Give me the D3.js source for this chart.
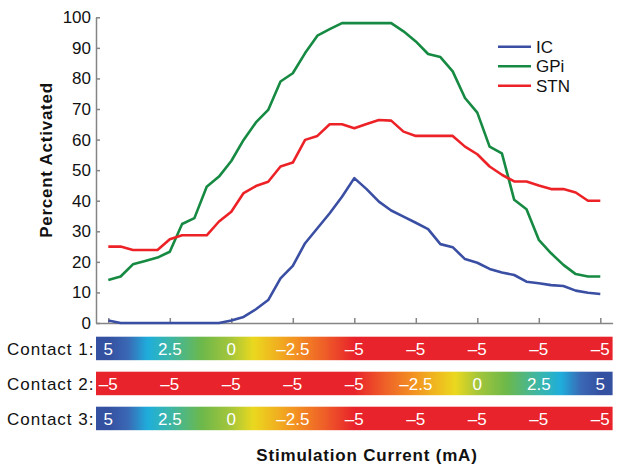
<!DOCTYPE html>
<html>
<head>
<meta charset="utf-8">
<script src="https://cdn.jsdelivr.net/npm/d3@7"></script>
<style>
  body { margin: 0; background: #fff; }
  svg { display: block; font-family: "Liberation Sans", Arial, Helvetica, sans-serif; }
</style>
</head>
<body>
<div id="chart"></div>
<script>
// percent activated at each stimulation step (41 steps)
var icValues = [0.8, 0, 0, 0, 0, 0, 0, 0, 0, 0, 0.8, 2, 4.5, 7.5, 14.6, 18.7, 26.1, 31, 35.9, 41.3, 47.4,
  43.8, 39.7, 36.8, 34.8, 32.8, 30.7, 25.8, 24.8, 20.9, 19.7, 17.7, 16.5, 15.7, 13.5, 13, 12.4, 12.1, 10.6, 9.9, 9.5];
var gpiValues = [14.1, 15.2, 19.2, 20.3, 21.4, 23.3, 32.4, 34.3, 44.6, 47.9, 53, 59.9, 65.6, 69.7, 79, 81.7, 88.3, 94, 96.1, 98.1, 98.1,
  98.1, 98.1, 98.1, 95.4, 92.1, 88, 87, 82.3, 73.6, 68.8, 57.7, 55.5, 40.3, 37.2, 27.2, 22.8, 19, 16, 15.2, 15.2];
var stnValues = [25, 25, 23.9, 23.9, 23.9, 27.4, 28.7, 28.7, 28.7, 33.2, 36.4, 42.5, 44.8, 46.2, 51.2, 52.5, 59.9, 61.2, 65, 65, 63.7,
  65.1, 66.4, 66.2, 62.6, 61.2, 61.2, 61.2, 61.2, 57.7, 55.2, 51.2, 48.5, 46.3, 46.3, 45, 43.8, 43.8, 42.7, 40, 40];

var seriesNames = ["IC", "GPi", "STN"];
var seriesColors = ["#3a4fa3", "#168a42", "#ec2227"];

var yTicks = [0, 10, 20, 30, 40, 50, 60, 70, 80, 90, 100];
var stepTicks = [0, 5, 10, 15, 20, 25, 30, 35, 40];

// current (mA) on each contact at the tick steps
var contactNames = ["Contact 1:", "Contact 2:", "Contact 3:"];
var contact1 = [5, 2.5, 0, -2.5, -5, -5, -5, -5, -5];
var contact2 = [-5, -5, -5, -5, -5, -2.5, 0, 2.5, 5];
var contact3 = [5, 2.5, 0, -2.5, -5, -5, -5, -5, -5];

// colour key for the current bars
var keyValues = [5, 4.2, 3.4, 2.5, 1.2, 0, -0.9, -2.5, -3.7, -5];
var keyColors = ["#3450a1", "#3a68b4", "#1eaedc", "#3cb6a8", "#6cb84a", "#a6c63a", "#ebd81e", "#f39621", "#ef6228", "#e8232b"];

function drawChart() {
  var w = 624, h = 472;
  var font = "\"Liberation Sans\", Arial, Helvetica, sans-serif";

  var svg = d3.select("#chart")
    .append("svg")
    .attr("width", w)
    .attr("height", h);

  var xScale = d3.scaleLinear()
    .domain([-1, 41])
    .range([96, 612.6]);

  var yScale = d3.scaleLinear()
    .domain([0, 100])
    .range([323, 17.3]);

  //y axis
  var yAxis = d3.axisLeft(yScale)
    .tickValues(yTicks)
    .tickSizeInner(-4)
    .tickSizeOuter(0)
    .tickPadding(5);

  var gy = svg.append("g")
    .attr("transform", "translate(96,0)")
    .call(yAxis);
  gy.selectAll("path, line").attr("stroke", "#858585").attr("stroke-width", 1.5);
  gy.selectAll("text")
    .attr("fill", "#111")
    .style("font-size", "17px")
    .style("font-family", font);

  //x axis, ticks only
  var xAxis = d3.axisBottom(xScale)
    .tickValues(stepTicks)
    .tickSizeInner(-5)
    .tickSizeOuter(0)
    .tickFormat("");

  var gx = svg.append("g")
    .attr("transform", "translate(0,323)")
    .call(xAxis);
  gx.selectAll("path, line").attr("stroke", "#858585").attr("stroke-width", 1.5);

  //lines
  var allSeries = [icValues, gpiValues, stnValues];
  var line = d3.line()
    .x((d, i) => xScale(i))
    .y((d) => yScale(d));

  svg.selectAll(".series")
    .data(allSeries)
    .enter()
    .append("path")
    .attr("class", "series")
    .attr("d", (d) => line(d))
    .attr("fill", "none")
    .attr("stroke", (d, i) => seriesColors[i])
    .attr("stroke-width", 2.6)
    .attr("stroke-linejoin", "round");

  //legend
  var legend = svg.selectAll(".legend")
    .data(seriesNames)
    .enter()
    .append("g")
    .attr("class", "legend")
    .attr("transform", (d, i) => "translate(498," + (46.7 + i * 19.5) + ")");
  legend.append("line")
    .attr("x1", 0).attr("x2", 33)
    .attr("stroke", (d, i) => seriesColors[i])
    .attr("stroke-width", 2.6);
  legend.append("text")
    .attr("x", 38)
    .attr("y", 6)
    .style("font-size", "17px")
    .attr("fill", "#111")
    .text((d) => d);

  //axis titles
  svg.append("text")
    .attr("transform", "translate(52,160) rotate(-90)")
    .attr("text-anchor", "middle")
    .style("font-size", "17px")
    .style("font-weight", "bold")
    .style("letter-spacing", "0.75px")
    .attr("fill", "#111")
    .text("Percent Activated");

  svg.append("text")
    .attr("x", 367)
    .attr("y", 461)
    .attr("text-anchor", "middle")
    .style("font-size", "17px")
    .style("font-weight", "bold")
    .style("letter-spacing", "0.8px")
    .attr("fill", "#111")
    .text("Stimulation Current (mA)");

  //contact bars
  var colorScale = d3.scaleLinear()
    .domain(keyValues)
    .range(keyColors);

  var contacts = [contact1, contact2, contact3];
  var rowTop = [336.7, 371.7, 406.7];
  var barH = 23.5;
  var x0 = xScale(-1), x1 = xScale(41);
  var defs = svg.append("defs");

  contacts.forEach((vals, r) => {
    var valueAt = d3.scaleLinear().domain(stepTicks).range(vals).clamp(true);
    var grad = defs.append("linearGradient")
      .attr("id", "grad" + r)
      .attr("gradientUnits", "userSpaceOnUse")
      .attr("x1", x0).attr("x2", x1)
      .attr("y1", 0).attr("y2", 0);
    for (var s = -1; s <= 41; s += 0.25) {
      grad.append("stop")
        .attr("offset", (xScale(s) - x0) / (x1 - x0))
        .attr("stop-color", colorScale(valueAt(s)));
    }

    svg.append("rect")
      .attr("x", x0)
      .attr("y", rowTop[r])
      .attr("width", x1 - x0)
      .attr("height", barH)
      .attr("fill", "url(#grad" + r + ")");

    svg.append("text")
      .attr("x", 7)
      .attr("y", rowTop[r] + barH / 2 + 6.3)
      .style("font-size", "17px")
      .style("letter-spacing", "1px")
      .attr("fill", "#111")
      .text(contactNames[r]);

    svg.selectAll(".clab" + r)
      .data(vals)
      .enter()
      .append("text")
      .attr("class", "clab" + r)
      .attr("x", (d, i) => xScale(stepTicks[i]))
      .attr("y", rowTop[r] + barH / 2 + 6.3)
      .attr("text-anchor", "middle")
      .style("font-size", "17px")
      .attr("fill", "#fff")
      .text((d) => (d < 0 ? "\u2013" + (-d) : "" + d));
  });
}

window.onload = function () {
  drawChart();
};
</script>
</body>
</html>
